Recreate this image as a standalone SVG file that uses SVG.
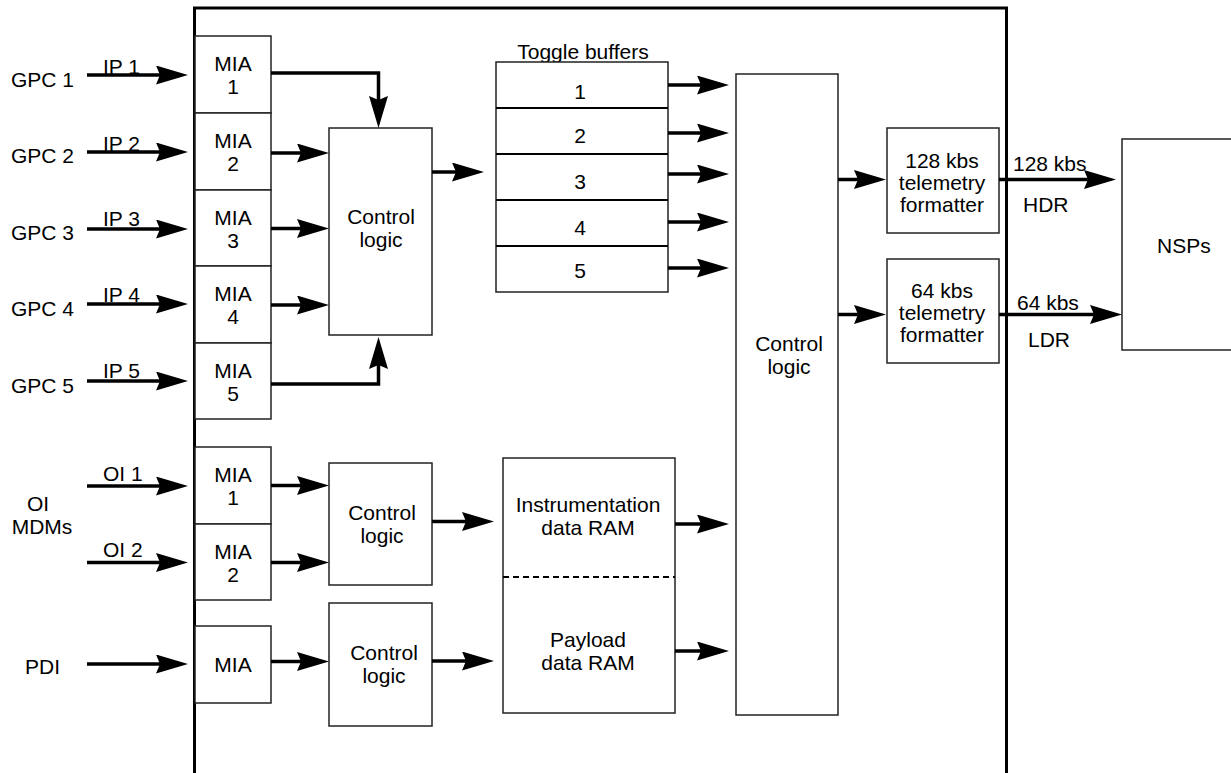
<svg xmlns="http://www.w3.org/2000/svg" width="1231" height="773" viewBox="0 0 1231 773">
<style>
text{font-family:"Liberation Sans",Arial,Helvetica,sans-serif;font-size:21px;fill:#000}
.c{text-anchor:middle}
.box{fill:#fff;stroke:#222;stroke-width:1.5}
.conn{fill:none;stroke:#000;stroke-width:3.5;marker-end:url(#ah)}
.frame{fill:none;stroke:#000;stroke-width:3}
.sep{stroke:#000;stroke-width:2.2}
</style>
<defs>
<marker id="ah" markerUnits="userSpaceOnUse" viewBox="0 0 32 19" refX="4" refY="9.5" markerWidth="32" markerHeight="19" orient="auto">
<path d="M0,0 L32,9.5 L0,19 L4,9.5 z" fill="#000"/>
</marker>
</defs>
<rect width="1231" height="773" fill="#fff"/>
<g id="frame"><path class="frame" d="M194.5,780 V8 H1006.5 V780"/></g>

<g id="labels-left">
<text x="11" y="87">GPC 1</text>
<text x="11" y="163">GPC 2</text>
<text x="11" y="240">GPC 3</text>
<text x="11" y="316">GPC 4</text>
<text x="11" y="393">GPC 5</text>
<text x="38" y="511" class="c">OI</text>
<text x="42" y="534" class="c">MDMs</text>
<text x="25" y="674">PDI</text>
<text x="103" y="74">IP 1</text>
<text x="103" y="151">IP 2</text>
<text x="103" y="226">IP 3</text>
<text x="103" y="302">IP 4</text>
<text x="103" y="378">IP 5</text>
<text x="103" y="481">OI 1</text>
<text x="103" y="557">OI 2</text>
</g>

<g id="mia-gpc1"><rect class="box" x="195" y="36" width="76" height="77"/><text class="c" x="233" y="71">MIA</text><text class="c" x="233" y="94">1</text></g>
<g id="mia-gpc2"><rect class="box" x="195" y="113" width="76" height="77"/><text class="c" x="233" y="148">MIA</text><text class="c" x="233" y="171">2</text></g>
<g id="mia-gpc3"><rect class="box" x="195" y="190" width="76" height="76"/><text class="c" x="233" y="225">MIA</text><text class="c" x="233" y="248">3</text></g>
<g id="mia-gpc4"><rect class="box" x="195" y="266" width="76" height="77"/><text class="c" x="233" y="301">MIA</text><text class="c" x="233" y="324">4</text></g>
<g id="mia-gpc5"><rect class="box" x="195" y="343" width="76" height="76"/><text class="c" x="233" y="378">MIA</text><text class="c" x="233" y="401">5</text></g>
<g id="mia-oi1"><rect class="box" x="195" y="447" width="76" height="77"/><text class="c" x="233" y="482">MIA</text><text class="c" x="233" y="505">1</text></g>
<g id="mia-oi2"><rect class="box" x="195" y="524" width="76" height="76"/><text class="c" x="233" y="559">MIA</text><text class="c" x="233" y="582">2</text></g>
<g id="mia-pdi"><rect class="box" x="195" y="626" width="76" height="77"/><text class="c" x="233" y="672">MIA</text></g>

<g id="control-logic-gpc"><rect class="box" x="329" y="128" width="103" height="207"/><text class="c" x="381" y="224">Control</text><text class="c" x="381" y="247">logic</text></g>
<g id="control-logic-oi"><rect class="box" x="329" y="463" width="103" height="122"/><text class="c" x="382" y="520">Control</text><text class="c" x="382" y="543">logic</text></g>
<g id="control-logic-pdi"><rect class="box" x="329" y="603" width="103" height="123"/><text class="c" x="384" y="660">Control</text><text class="c" x="384" y="683">logic</text></g>

<g id="toggle-buffers">
<text class="c" x="583" y="59">Toggle buffers</text>
<rect class="box" x="496" y="62" width="172" height="230"/>
<line class="sep" x1="496" y1="108" x2="668" y2="108"/>
<line class="sep" x1="496" y1="154" x2="668" y2="154"/>
<line class="sep" x1="496" y1="200" x2="668" y2="200"/>
<line class="sep" x1="496" y1="246" x2="668" y2="246"/>
<text class="c" x="580" y="99">1</text>
<text class="c" x="580" y="143">2</text>
<text class="c" x="580" y="189">3</text>
<text class="c" x="580" y="235">4</text>
<text class="c" x="580" y="278">5</text>
</g>

<g id="ram">
<rect class="box" x="503" y="458" width="172" height="255"/>
<line x1="503" y1="577" x2="675" y2="577" stroke="#000" stroke-width="2" stroke-dasharray="6,4"/>
<text class="c" x="588" y="512">Instrumentation</text>
<text class="c" x="588" y="535">data RAM</text>
<text class="c" x="588" y="647">Payload</text>
<text class="c" x="588" y="670">data RAM</text>
</g>

<g id="control-logic-main"><rect class="box" x="736" y="74" width="102" height="641"/><text class="c" x="789" y="351">Control</text><text class="c" x="789" y="374">logic</text></g>

<g id="formatter-128"><rect class="box" x="887" y="128" width="112" height="105"/><text class="c" x="942" y="168">128 kbs</text><text class="c" x="942" y="190">telemetry</text><text class="c" x="942" y="212">formatter</text></g>
<g id="formatter-64"><rect class="box" x="887" y="259" width="112" height="104"/><text class="c" x="942" y="298">64 kbs</text><text class="c" x="942" y="320">telemetry</text><text class="c" x="942" y="342">formatter</text></g>

<g id="nsps"><rect class="box" x="1122" y="139" width="130" height="211"/><text x="1157" y="253">NSPs</text></g>

<g id="labels-right">
<text x="1013" y="171">128 kbs</text>
<text x="1023" y="212">HDR</text>
<text x="1017" y="310">64 kbs</text>
<text x="1028" y="347">LDR</text>
</g>

<g id="connectors">
<path class="conn" d="M87,75 H160"/>
<path class="conn" d="M87,152 H160"/>
<path class="conn" d="M87,229 H160"/>
<path class="conn" d="M87,304 H160"/>
<path class="conn" d="M87,381 H160"/>
<path class="conn" d="M87,486 H160"/>
<path class="conn" d="M87,562.5 H160"/>
<path class="conn" d="M87,664 H160"/>
<path class="conn" d="M271,73 H378.5 V100"/>
<path class="conn" d="M271,153 H301"/>
<path class="conn" d="M271,228.5 H301"/>
<path class="conn" d="M271,305 H301"/>
<path class="conn" d="M271,384 H378.5 V365"/>
<path class="conn" d="M432,172 H456"/>
<path class="conn" d="M668,85 H701"/>
<path class="conn" d="M668,133 H701"/>
<path class="conn" d="M668,174 H701"/>
<path class="conn" d="M668,222 H701"/>
<path class="conn" d="M668,268 H701"/>
<path class="conn" d="M271,485.5 H301"/>
<path class="conn" d="M271,562.5 H301"/>
<path class="conn" d="M271,661.5 H301"/>
<path class="conn" d="M432,521.5 H466"/>
<path class="conn" d="M432,661 H466"/>
<path class="conn" d="M675,524 H701"/>
<path class="conn" d="M675,651 H701"/>
<path class="conn" d="M838,179.5 H858"/>
<path class="conn" d="M838,314.5 H858"/>
<path class="conn" d="M999,179.5 H1088"/>
<path class="conn" d="M999,314.5 H1094"/>
</g>
</svg>
